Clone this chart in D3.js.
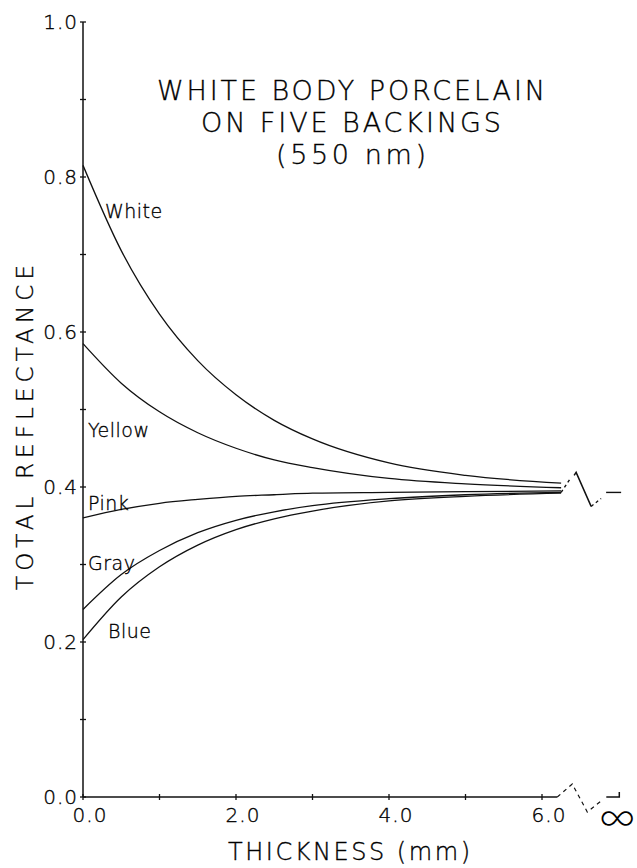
<!DOCTYPE html>
<meta charset="utf-8">
<script src="https://d3js.org/d3.v7.min.js"></script>
<style>
  body { margin: 0; background: #fff; }
  text { font-family: "DejaVu Sans", "Liberation Sans", sans-serif; font-weight: 200; fill: #000; stroke: #000; stroke-width: 0.35px; }
</style>
<svg id="chart" width="637" height="868"></svg>
<script>

// thickness (mm) where the curves were read
var thickness = [0, 0.5, 1, 1.5, 2, 2.5, 3, 4, 5, 6.25];

var backings = ["White", "Yellow", "Pink", "Gray", "Blue"];
var whiteR  = [0.815, 0.705, 0.623, 0.563, 0.519, 0.486, 0.462, 0.431, 0.415, 0.405];
var yellowR = [0.585, 0.534, 0.497, 0.470, 0.450, 0.435, 0.425, 0.411, 0.404, 0.399];
var pinkR   = [0.360, 0.371, 0.379, 0.384, 0.388, 0.390, 0.392, 0.393, 0.394, 0.395];
var grayR   = [0.242, 0.287, 0.318, 0.341, 0.357, 0.368, 0.376, 0.385, 0.390, 0.393];
var blueR   = [0.203, 0.258, 0.297, 0.325, 0.345, 0.359, 0.369, 0.382, 0.388, 0.392];

// value at infinite thickness
var infReflectance = 0.393;

var xTicks = [0, 1, 2, 3, 4, 5, 6];
var xTickLabels = ["0.0", "2.0", "4.0", "6.0"];
var yTicks = [0, 0.1, 0.2, 0.3, 0.4, 0.5, 0.6, 0.7, 0.8, 0.9, 1.0];
var yTickLabels = ["0.0", "0.2", "0.4", "0.6", "0.8", "1.0"];

var titleLines = ["WHITE BODY PORCELAIN", "ON FIVE BACKINGS", "(550 nm)"];

const svg = d3.select("#chart");

const x = d3.scaleLinear().domain([0, 6]).range([83, 542]);
const y = d3.scaleLinear().domain([0, 1]).range([797, 22]);

const series = [whiteR, yellowR, pinkR, grayR, blueR];

// y axis
svg.append("line")
    .attr("x1", x(0)).attr("x2", x(0))
    .attr("y1", y(0)).attr("y2", y(1))
    .style("stroke", "#111").style("stroke-width", 1.5);

svg.selectAll(".ytick")
    .data(yTicks)
    .enter().append("line")
    .attr("x1", x(0) - 3).attr("x2", x(0) + 3)
    .attr("y1", d => y(d)).attr("y2", d => y(d))
    .style("stroke", "#111").style("stroke-width", 1.3);

svg.selectAll(".ylab")
    .data(yTickLabels)
    .enter().append("text")
    .attr("x", x(0) - 5)
    .attr("y", d => y(+d))
    .attr("dy", "0.36em")
    .attr("text-anchor", "end")
    .style("font-size", "20px")
    .style("letter-spacing", "1px")
    .text(d => d);

// x axis up to the break
svg.append("line")
    .attr("x1", x(0)).attr("x2", x(6.2))
    .attr("y1", y(0)).attr("y2", y(0))
    .style("stroke", "#111").style("stroke-width", 1.5);

svg.selectAll(".xtick")
    .data(xTicks)
    .enter().append("line")
    .attr("x1", d => x(d)).attr("x2", d => x(d))
    .attr("y1", y(0) - 3).attr("y2", y(0) + 3)
    .style("stroke", "#111").style("stroke-width", 1.3);

svg.selectAll(".xlab")
    .data(xTickLabels)
    .enter().append("text")
    .attr("x", d => x(+d) + 7)
    .attr("y", y(0) + 25)
    .attr("text-anchor", "middle")
    .style("font-size", "20px")
    .style("letter-spacing", "1px")
    .text(d => d);

// break on the x axis and the infinity end
const bx = x(6.2), by = y(0);
svg.append("path")
    .attr("d", d3.line()([[bx, by], [bx + 15, by - 13], [bx + 30, by + 15], [bx + 45, by + 3]]))
    .style("fill", "none").style("stroke", "#111").style("stroke-width", 1.2)
    .style("stroke-dasharray", "4,4");
svg.append("path")
    .attr("d", d3.line()([[bx + 49, by], [bx + 62, by], [bx + 62, by - 5]]))
    .style("fill", "none").style("stroke", "#111").style("stroke-width", 1.5);
svg.append("text")
    .attr("x", bx + 60).attr("y", by + 34)
    .attr("text-anchor", "middle")
    .style("font-family", "Inter, 'Noto Sans', sans-serif")
    .style("font-weight", 200)
    .style("font-size", "40px")
    .style("stroke", "none")
    .text("\u221E");

// curves
const line = d3.line()
    .x((d, i) => x(thickness[i]))
    .y(d => y(d))
    .curve(d3.curveMonotoneX);

svg.selectAll(".curve")
    .data(series)
    .enter().append("path")
    .attr("d", d => line(d))
    .style("fill", "none")
    .style("stroke", "#111")
    .style("stroke-width", 1.3);

// break on the curves, then the value at infinity
const cx = x(thickness[thickness.length - 1]), cy = y(infReflectance), iy = y(infReflectance);
svg.append("path")
    .attr("d", d3.line()([[cx, cy], [cx + 10, cy - 15]]))
    .style("fill", "none").style("stroke", "#111").style("stroke-width", 1.4)
    .style("stroke-dasharray", "3,3");
svg.append("path")
    .attr("d", d3.line()([[cx + 13, cy - 17], [cx + 15, cy - 20], [cx + 30, cy + 14]]))
    .style("fill", "none").style("stroke", "#111").style("stroke-width", 1.5);
svg.append("path")
    .attr("d", d3.line()([[cx + 30, cy + 14], [cx + 40, cy + 6]]))
    .style("fill", "none").style("stroke", "#111").style("stroke-width", 1.3)
    .style("stroke-dasharray", "3,3");
svg.append("line")
    .attr("x1", cx + 45).attr("x2", cx + 60)
    .attr("y1", iy).attr("y2", iy)
    .style("stroke", "#111").style("stroke-width", 1.4);

// curve labels
const labelPos = [[105, 218], [88, 437], [88, 510], [88, 570], [108, 638]];
svg.selectAll(".clab")
    .data(backings)
    .enter().append("text")
    .attr("x", (d, i) => labelPos[i][0])
    .attr("y", (d, i) => labelPos[i][1])
    .style("font-size", "19px")
    .style("letter-spacing", "0.5px")
    .text(d => d);

// title
const titleWidths = [388, 300, 150];
svg.selectAll(".title")
    .data(titleLines)
    .enter().append("text")
    .attr("x", (d, i) => 351 - titleWidths[i] / 2)
    .attr("y", (d, i) => 100 + i * 32)
    .attr("textLength", (d, i) => titleWidths[i])
    .attr("lengthAdjust", "spacing")
    .style("font-size", "27px")
    .text(d => d);

// axis titles
svg.append("text")
    .attr("x", 228).attr("y", 860)
    .attr("textLength", 242)
    .attr("lengthAdjust", "spacing")
    .style("font-size", "24px")
    .text("THICKNESS (mm)");

svg.append("text")
    .attr("transform", "translate(33,590) rotate(-90)")
    .attr("textLength", 325)
    .attr("lengthAdjust", "spacing")
    .style("font-size", "23px")
    .text("TOTAL REFLECTANCE");

</script>
